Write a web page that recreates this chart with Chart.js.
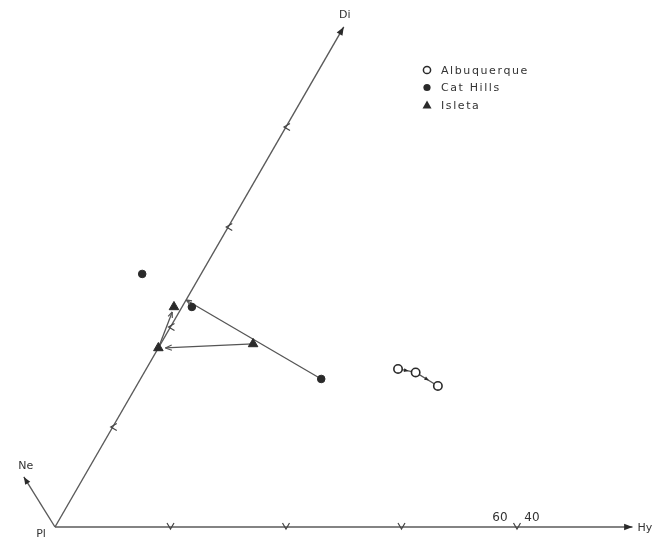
<!DOCTYPE html>
<html>
<head>
<meta charset="utf-8">
<script src="https://cdn.jsdelivr.net/npm/chart.js@4.4.0/dist/chart.umd.min.js"></script>
<style>
  html, body { margin: 0; padding: 0; background: #fff; }
  #wrap { width: 656px; height: 537px; position: relative; }
</style>
</head>
<body>
<div id="wrap"><canvas id="plot"></canvas></div>
<script>
// normative composition (percent along Hy and Di axes)
var albuquerqueHy = [43.6, 47.0, 52.2]
var albuquerqueDi = [31.6, 30.9, 28.2]
var catHillsHy = [-10.2, 1.7, 31.3]
var catHillsDi = [50.6, 44.0, 29.6]
var isletaHy = [16.0, 0.0, -1.4]
var isletaDi = [36.6, 35.8, 44.0]

// trend arrows
var catHillsTrendHy = [31.3, 0.0]
var catHillsTrendDi = [29.6, 45.4]
var isletaTrendHy = [16.0, 1.2]
var isletaTrendDi = [36.6, 35.8]
var isletaUpHy = [0.0, -1.2]
var isletaUpDi = [35.8, 43.0]

var hyTicks = [20, 40, 60, 80]
var diTicks = [20, 40, 60, 80]
var neEnd = [-10.4, 10]

var SIN60 = Math.sqrt(3) / 2

function toXY(hy, di) {
  return { x: hy + di * 0.5, y: di * SIN60 }
}

function pts(hys, dis) {
  var out = []
  for (var i = 0; i < hys.length; i++) out.push(toXY(hys[i], dis[i]))
  return out
}

var ink = '#2a2a2a'
var lineInk = '#555'

function lineSet(data, arrow, mid) {
  return {
    data: data,
    showLine: true,
    borderColor: lineInk,
    borderWidth: 1.3,
    pointRadius: 0,
    arrow: arrow,
    midArrow: mid,
    order: 2
  }
}

function arrowHead(ctx, x1, y1, x2, y2, size, filled) {
  var a = Math.atan2(y2 - y1, x2 - x1)
  ctx.beginPath()
  ctx.moveTo(x2, y2)
  ctx.lineTo(x2 - size * Math.cos(a - 0.38), y2 - size * Math.sin(a - 0.38))
  if (filled) {
    ctx.lineTo(x2 - size * Math.cos(a + 0.38), y2 - size * Math.sin(a + 0.38))
    ctx.closePath()
    ctx.fill()
  } else {
    ctx.moveTo(x2, y2)
    ctx.lineTo(x2 - size * Math.cos(a + 0.38), y2 - size * Math.sin(a + 0.38))
    ctx.stroke()
  }
}

var decorations = {
  id: 'decorations',
  afterDatasetsDraw: function(chart) {
    var ctx = chart.ctx
    var xs = chart.scales.x, ys = chart.scales.y
    function px(p) { return [xs.getPixelForValue(p.x), ys.getPixelForValue(p.y)] }
    ctx.save()
    ctx.strokeStyle = lineInk
    ctx.fillStyle = ink
    ctx.lineWidth = 1.2

    chart.data.datasets.forEach(function(ds) {
      if (!ds.arrow && !ds.midArrow) return
      var d = ds.data
      if (ds.arrow) {
        var a = px(d[d.length - 2]), b = px(d[d.length - 1])
        arrowHead(ctx, a[0], a[1], b[0], b[1], ds.arrow, ds.filled)
      }
      if (ds.midArrow) {
        for (var i = 0; i < d.length - 1; i++) {
          var p = px(d[i]), q = px(d[i + 1])
          var mx = p[0] + (q[0] - p[0]) * 0.6, my = p[1] + (q[1] - p[1]) * 0.6
          arrowHead(ctx, p[0], p[1], mx, my, 5, true)
        }
      }
    })

    // ticks on Hy axis
    ctx.strokeStyle = '#444'
    ctx.lineWidth = 1.2
    hyTicks.forEach(function(t) {
      var p = px(toXY(t, 0))
      ctx.beginPath()
      ctx.moveTo(p[0] - 3.5, p[1] - 4)
      ctx.lineTo(p[0], p[1] + 2)
      ctx.lineTo(p[0] + 3.5, p[1] - 4)
      ctx.stroke()
    })
    // ticks on Di axis
    diTicks.forEach(function(t) {
      var p = px(toXY(0, t))
      ctx.beginPath()
      ctx.moveTo(p[0] + 4, p[1] - 3.5)
      ctx.lineTo(p[0] - 2, p[1])
      ctx.lineTo(p[0] + 4, p[1] + 3.5)
      ctx.stroke()
    })

    // axis labels
    ctx.fillStyle = '#333'
    ctx.font = '11px "DejaVu Sans"'
    ctx.textBaseline = 'middle'
    ctx.textAlign = 'center'
    var o = px(toXY(0, 0))
    ctx.fillText('Pl', o[0] - 14, o[1] + 7)
    var di = px(toXY(0, 100))
    ctx.fillText('Di', di[0] + 1, di[1] - 12)
    var ne = px(toXY(neEnd[0], neEnd[1]))
    ctx.fillText('Ne', ne[0] + 2, ne[1] - 11)
    var hy = px(toXY(100, 0))
    ctx.textAlign = 'left'
    ctx.fillText('Hy', hy[0] + 5, hy[1] + 1)
    var t80 = px(toXY(80, 0))
    ctx.font = '12px "DejaVu Sans"'
    ctx.textAlign = 'center'
    ctx.fillText('60', t80[0] - 17, t80[1] - 9)
    ctx.fillText('40', t80[0] + 15, t80[1] - 9)

    // legend
    var rows = [['Albuquerque', 'open'], ['Cat Hills', 'dot'], ['Isleta', 'tri']]
    ctx.font = '11px "DejaVu Sans"'
    ctx.textAlign = 'left'
    ctx.letterSpacing = '1.6px'
    rows.forEach(function(r, i) {
      var x = 427, y = 70 + i * 17.5
      ctx.fillStyle = ink
      ctx.strokeStyle = ink
      ctx.lineWidth = 1.5
      ctx.beginPath()
      if (r[1] === 'open') {
        ctx.arc(x, y, 3.6, 0, Math.PI * 2)
        ctx.stroke()
      } else if (r[1] === 'dot') {
        ctx.arc(x, y, 3.6, 0, Math.PI * 2)
        ctx.fill()
      } else {
        ctx.moveTo(x, y - 4.5)
        ctx.lineTo(x + 4.5, y + 3.5)
        ctx.lineTo(x - 4.5, y + 3.5)
        ctx.closePath()
        ctx.fill()
      }
      ctx.fillStyle = '#333'
      ctx.fillText(r[0], x + 14, y + 1)
    })
    ctx.restore()
  }
}

var axisSet = function(data, arrow) {
  var s = lineSet(data, arrow, false)
  s.borderColor = '#5a5a5a'
  s.borderWidth = 1.4
  s.filled = true
  s.order = 3
  return s
}

new Chart(document.getElementById('plot'), {
  type: 'scatter',
  data: {
    datasets: [
      {
        label: 'Albuquerque',
        data: pts(albuquerqueHy, albuquerqueDi),
        showLine: true,
        borderColor: lineInk,
        borderWidth: 1.3,
        midArrow: true,
        pointStyle: 'circle',
        pointRadius: 4.2,
        pointBorderWidth: 1.6,
        pointBackgroundColor: '#fff',
        pointBorderColor: ink,
        order: 0
      },
      {
        label: 'Cat Hills',
        data: pts(catHillsHy, catHillsDi),
        showLine: false,
        pointStyle: 'circle',
        pointRadius: 3.8,
        pointBackgroundColor: ink,
        pointBorderColor: ink,
        order: 0
      },
      {
        label: 'Isleta',
        data: pts(isletaHy, isletaDi),
        showLine: false,
        pointStyle: 'triangle',
        pointRadius: 5.5,
        pointBackgroundColor: ink,
        pointBorderColor: ink,
        order: 0
      },
      lineSet(pts(catHillsTrendHy, catHillsTrendDi), 6, false),
      lineSet(pts(isletaTrendHy, isletaTrendDi), 7, false),
      lineSet(pts(isletaUpHy, isletaUpDi), 6, false),
      axisSet([toXY(0, 0), toXY(100, 0)], 9),
      axisSet([toXY(0, 0), toXY(0, 100)], 9),
      axisSet([toXY(0, 0), toXY(neEnd[0], neEnd[1])], 8)
    ]
  },
  options: {
    responsive: true,
    maintainAspectRatio: false,
    animation: false,
    layout: { padding: 0, autoPadding: false },
    plugins: { legend: { display: false }, tooltip: { enabled: false } },
    scales: {
      x: { type: 'linear', display: false, min: -9.524, max: 104.07 },
      y: { type: 'linear', display: false, min: -1.732, max: 91.26 }
    }
  },
  plugins: [decorations]
})
</script>
</body>
</html>
